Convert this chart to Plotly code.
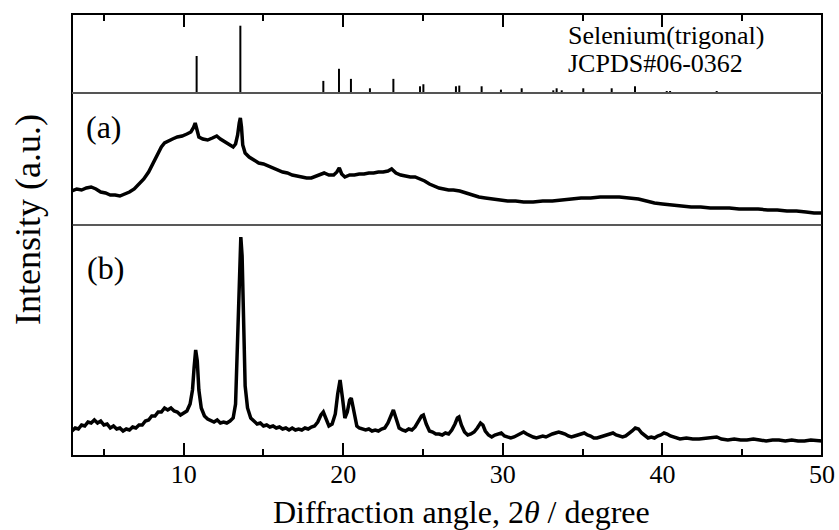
import plotly.graph_objects as go

# ---------------- data ----------------
# Reference stick pattern: Selenium (trigonal) JCPDS#06-0362 (relative intensity, %)
ref_2theta = [10.81, 13.55, 18.75, 19.73, 20.48, 21.67, 23.14, 24.81, 25.02, 27.06, 27.27,
              28.67, 29.88, 31.18, 33.16, 33.37, 33.69, 35.04, 36.82, 38.28, 40.27, 40.48, 43.40]
ref_int = [55, 100, 18, 36, 21, 7, 21, 10, 13, 10, 11,
           10, 5, 7, 4, 7, 4, 7, 7, 10, 3, 3, 3]

# Sample (a)
a_2theta = [3.0, 3.3, 3.6, 3.9, 4.2, 4.5, 4.8, 5.1, 5.4, 5.7, 6.0, 6.3, 6.6, 6.9, 7.2, 7.5, 7.8,
            8.1, 8.4, 8.6, 8.8, 9.0, 9.3, 9.6, 9.9, 10.2, 10.45, 10.6, 10.72, 10.82, 10.95, 11.2,
            11.5, 11.8, 12.07, 12.3, 12.6, 12.9, 13.1, 13.25, 13.38, 13.48, 13.55, 13.62, 13.7,
            13.85, 14.1, 14.4, 14.7, 15.0, 15.3, 15.6, 15.9, 16.2, 16.5, 16.8, 17.1, 17.4, 17.7,
            18.0, 18.3, 18.6, 18.8, 19.1, 19.4, 19.6, 19.75, 19.9, 20.1, 20.4, 20.7, 21.0, 21.3,
            21.6, 21.9, 22.2, 22.5, 22.8, 23.03, 23.3, 23.6, 23.9, 24.2, 24.5, 24.8, 25.1, 25.4,
            25.7, 26.0, 26.3, 26.6, 26.9, 27.3, 27.7, 28.1, 28.5, 28.9, 29.3, 29.8, 30.3, 30.8,
            31.3, 31.9, 32.5, 33.1, 33.7, 34.3, 34.9, 35.5, 36.1, 36.7, 37.3, 37.9, 38.5, 39.0,
            39.5, 40.0, 40.6, 41.2, 41.8, 42.4, 43.0, 43.6, 44.2, 44.8, 45.4, 46.0, 46.6, 47.2,
            47.8, 48.4, 49.0, 49.5, 50.0]
a_int = [34, 36, 35, 37, 38, 36, 33, 32, 30, 30, 29, 31, 33, 36, 41, 46, 53,
         62, 72, 78, 82, 84, 86, 88, 89, 91, 93, 97, 102, 96, 88, 86,
         85, 87, 89, 86, 83, 79, 78, 81, 90, 102, 107, 98, 80,
         72, 68, 65, 62, 61, 59, 57, 55, 53, 52, 50, 49, 48, 47,
         47, 49, 51, 52, 50, 50, 53, 57, 51, 48, 50, 50, 51, 51,
         52, 52, 53, 53, 54, 56, 52, 50, 49, 48, 48, 46, 44, 41,
         39, 37, 36, 35, 35, 34, 32, 30, 28, 27, 26, 25, 24, 24,
         23, 23, 24, 24, 25, 26, 27, 27, 28, 28, 28, 27, 26, 24,
         22, 21, 20, 19, 18, 18, 17, 17, 17, 16, 16, 16, 15, 15,
         14, 14, 13, 12, 12]

# Sample (b)
b_2theta = [3.0, 3.2, 3.4, 3.6, 3.8, 4.0, 4.2, 4.4, 4.6, 4.8, 5.0, 5.2, 5.4, 5.6, 5.8, 6.0, 6.2,
            6.4, 6.6, 6.8, 7.0, 7.2, 7.4, 7.6, 7.8, 8.0, 8.2, 8.4, 8.6, 8.8, 9.0, 9.2, 9.4, 9.6,
            9.8, 10.0, 10.2, 10.4, 10.55, 10.65, 10.75, 10.85, 10.95, 11.1, 11.3, 11.5, 11.7,
            11.9, 12.1, 12.3, 12.5, 12.7, 12.9, 13.1, 13.25, 13.38, 13.48, 13.58, 13.66, 13.74,
            13.85, 14.0, 14.2, 14.4, 14.6, 14.8, 15.0, 15.2, 15.4, 15.6, 15.8, 16.0, 16.2, 16.4,
            16.6, 16.8, 17.0, 17.2, 17.4, 17.6, 17.8, 18.0, 18.2, 18.4, 18.6, 18.75, 18.9, 19.1,
            19.3, 19.5, 19.65, 19.8, 19.95, 20.1, 20.25, 20.4, 20.5, 20.65, 20.85, 21.0, 21.2,
            21.4, 21.6, 21.8, 22.0, 22.2, 22.4, 22.6, 22.8, 23.0, 23.14, 23.3, 23.5, 23.7, 23.9,
            24.1, 24.3, 24.5, 24.7, 24.9, 25.02, 25.2, 25.4, 25.6, 25.8, 26.0, 26.2, 26.4, 26.6,
            26.8, 27.0, 27.15, 27.25, 27.4, 27.6, 27.8, 28.0, 28.2, 28.4, 28.6, 28.75, 28.9,
            29.1, 29.3, 29.5, 29.7, 29.9, 30.1, 30.3, 30.5, 30.7, 30.9, 31.1, 31.3, 31.5, 31.7,
            31.9, 32.1, 32.3, 32.5, 32.7, 32.9, 33.1, 33.3, 33.5, 33.7, 33.9, 34.1, 34.3, 34.5,
            34.7, 34.9, 35.1, 35.3, 35.5, 35.7, 35.9, 36.1, 36.3, 36.5, 36.7, 36.9, 37.1, 37.3,
            37.5, 37.7, 37.9, 38.1, 38.3, 38.5, 38.7, 38.9, 39.1, 39.3, 39.5, 39.7, 39.9, 40.1,
            40.3, 40.5, 40.7, 40.9, 41.1, 41.5, 41.9, 42.3, 42.7, 43.1, 43.4, 43.7, 44.1, 44.5,
            44.9, 45.3, 45.7, 46.1, 46.5, 46.9, 47.3, 47.7, 48.1, 48.5, 48.9, 49.3, 49.7, 50.0]
b_int = [25, 28, 27, 31, 30, 34, 33, 36, 33, 35, 31, 32, 28, 30, 27, 28, 25,
         27, 26, 29, 28, 31, 31, 35, 36, 40, 40, 44, 44, 48, 46, 48, 45, 44,
         41, 43, 45, 52, 66, 88, 106, 95, 66, 48, 40, 37, 35,
         34, 36, 33, 34, 33, 35, 38, 52, 110, 170, 219, 200, 130,
         70, 48, 38, 35, 32, 33, 30, 31, 29, 30, 28, 29, 27, 28,
         26, 28, 26, 27, 26, 28, 27, 29, 30, 34, 41, 44, 38, 30,
         32, 42, 62, 76, 58, 38, 44, 56, 58, 44, 30, 28, 27,
         26, 27, 25, 26, 25, 27, 28, 33, 42, 46, 38, 28, 26, 25,
         27, 26, 29, 34, 40, 41, 32, 25, 24, 22, 22, 21, 23, 22,
         26, 32, 38, 39, 31, 24, 21, 22, 24, 28, 33, 31, 25,
         21, 19, 21, 22, 23, 20, 19, 18, 19, 21, 22, 24, 22, 20,
         19, 18, 19, 20, 19, 21, 22, 23, 24, 23, 22, 20, 19, 20,
         21, 22, 23, 21, 20, 18, 18, 19, 20, 21, 22, 23, 21, 20,
         19, 20, 22, 25, 28, 27, 23, 20, 18, 19, 18, 20, 21, 23,
         22, 20, 19, 18, 17, 18, 17, 17, 18, 19, 19, 17, 16, 17,
         16, 16, 17, 16, 15, 16, 16, 15, 16, 15, 15, 16, 15, 15]

x_ticks = [10, 20, 30, 40, 50]
x_tick_labels = ["10", "20", "30", "40", "50"]

# ---------------- figure ----------------
FONT = "Liberation Serif"

# stick segments built from the reference arrays
stick_x, stick_y = [], []
for t, v in zip(ref_2theta, ref_int):
    stick_x += [t, t, None]
    stick_y += [0, v, None]

fig = go.Figure()
fig.add_trace(go.Scatter(x=b_2theta, y=b_int, mode="lines", xaxis="x", yaxis="y",
                         line=dict(color="black", width=3.5), showlegend=False))
fig.add_trace(go.Scatter(x=a_2theta, y=a_int, mode="lines", xaxis="x2", yaxis="y2",
                         line=dict(color="black", width=3.5), showlegend=False))
fig.add_trace(go.Scatter(x=stick_x, y=stick_y, mode="lines", xaxis="x3", yaxis="y3",
                         line=dict(color="black", width=2), showlegend=False))

d1 = 231 / 442
d2 = 363 / 442

common_x = dict(range=[3, 50], showgrid=False, zeroline=False, automargin=False)
common_y = dict(showticklabels=False, ticks="", showgrid=False, zeroline=False, automargin=False)
fig.update_layout(
    template="none",
    width=839, height=530,
    margin=dict(l=72, r=17, t=14, b=74, autoexpand=False),
    paper_bgcolor="white", plot_bgcolor="white",
    xaxis=dict(**common_x, anchor="y", tickmode="array", tickvals=x_ticks, ticktext=x_tick_labels,
               ticks="inside", ticklen=13, tickwidth=2, tickcolor="black",
               minor=dict(dtick=5, tick0=0, ticks="inside", ticklen=7, tickwidth=2, tickcolor="black"),
               showline=False,
               tickfont=dict(family=FONT, size=26, color="black")),
    xaxis2=dict(**common_x, anchor="y2", showticklabels=False, ticks="", showline=False),
    xaxis3=dict(**common_x, anchor="y3", side="top", showticklabels=False,
                tickmode="array", tickvals=x_ticks,
                ticks="inside", ticklen=13, tickwidth=2, tickcolor="black",
                minor=dict(dtick=5, tick0=0, ticks="inside", ticklen=7, tickwidth=2, tickcolor="black"),
                showline=False),
    yaxis=dict(**common_y, domain=[0, d1], range=[0, 231]),
    yaxis2=dict(**common_y, domain=[d1, d2], range=[0, 132]),
    yaxis3=dict(**common_y, domain=[d2, 1], range=[0, 117.4]),
    shapes=[
        dict(type="rect", xref="paper", yref="paper", x0=0, y0=0, x1=1, y1=1,
             line=dict(color="black", width=2)),
        dict(type="line", xref="paper", yref="paper", x0=0, x1=1, y0=d2, y1=d2,
             line=dict(color="#555555", width=2)),
        dict(type="line", xref="paper", yref="paper", x0=0, x1=1, y0=d1, y1=d1,
             line=dict(color="#222222", width=1.5)),
    ],
)

def px_x(px):
    return (px - 72) / 750

def px_y(py):
    return (456 - py) / 442

annotations = [
    dict(text="Diffraction angle, 2<i>θ</i> / degree", x=px_x(461), y=px_y(512),
         font=dict(family=FONT, size=32, color="black")),
    dict(text="Intensity (a.u.)", x=px_x(28), y=px_y(220), textangle=-90,
         font=dict(family=FONT, size=36, color="black")),
    dict(text="(a)", x=px_x(104), y=px_y(127), font=dict(family=FONT, size=32, color="black")),
    dict(text="(b)", x=px_x(105), y=px_y(268), font=dict(family=FONT, size=32, color="black")),
    dict(text="Selenium(trigonal)", x=px_x(566), y=px_y(35), xanchor="left",
         font=dict(family=FONT, size=26, color="black")),
    dict(text="JCPDS#06-0362", x=px_x(566), y=px_y(63), xanchor="left",
         font=dict(family=FONT, size=26, color="black")),
]
for a in annotations:
    a.setdefault("xanchor", "center")
    a.update(xref="paper", yref="paper", yanchor="middle", showarrow=False)
fig.update_layout(annotations=annotations)

fig.write_html("out.html")
